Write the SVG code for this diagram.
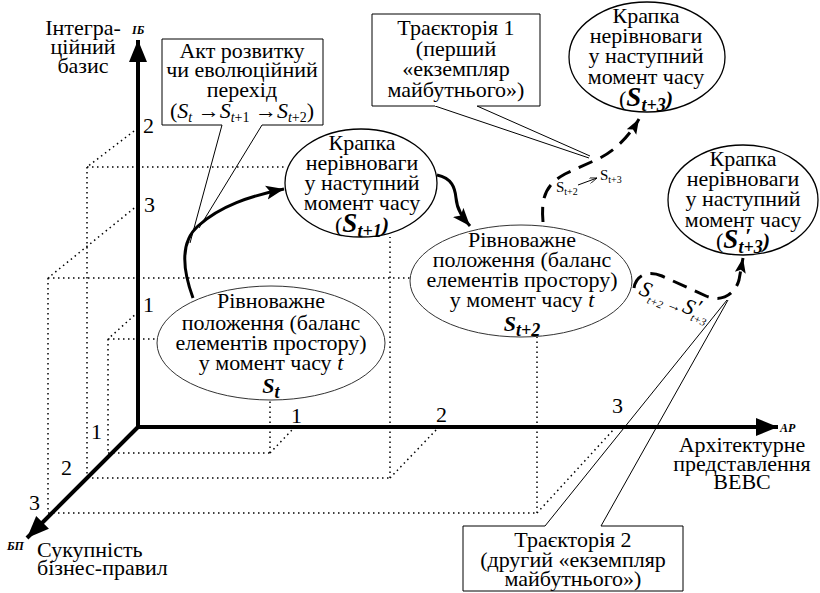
<svg xmlns="http://www.w3.org/2000/svg" width="820" height="593" viewBox="0 0 820 593">
<style>
 text { font-family: "Liberation Serif", "Times New Roman", serif; font-size: 22px; fill: #000; }
 .c { text-anchor: middle; }
 .dot { fill: none; stroke: #000; stroke-width: 1.5; stroke-dasharray: 1.5 3.5; }
 .axis { fill: none; stroke: #000; stroke-width: 4; }
 .arr { fill: none; stroke: #000; stroke-width: 3; }
 .dash { fill: none; stroke: #000; stroke-width: 3; stroke-dasharray: 15 9; }
 .thin { fill: none; stroke: #000; stroke-width: 1; }
 .box { fill: #fff; stroke: none; }
 .el1 { fill: #fff; stroke: #333; stroke-width: 1; }
 .el2 { fill: #fff; stroke: #000; stroke-width: 1.3; }
 .bi { font-weight: bold; font-style: italic; }
 .it { font-style: italic; }
 .ax { font-size: 12px; font-weight: bold; font-style: italic; }
 .sm { font-size: 15px; }
 .sub { font-size: 10px; }
</style>
<defs>
 <marker id="axHead" markerUnits="userSpaceOnUse" markerWidth="24" markerHeight="20" viewBox="0 0 24 20" refX="22" refY="10" orient="auto-start-reverse"><path d="M0,1 L22,10 L0,19 Z" fill="#000"/></marker>
 <marker id="head" markerUnits="userSpaceOnUse" markerWidth="20" markerHeight="16" viewBox="0 0 20 16" refX="18" refY="8" orient="auto"><path d="M0,1 L18,8 L0,15 L4,8 Z" fill="#000"/></marker>
 <marker id="headS" markerUnits="userSpaceOnUse" markerWidth="16" markerHeight="12" viewBox="0 0 16 12" refX="15" refY="6" orient="auto"><path d="M0,0.5 L15,6 L0,11.5 L3,6 Z" fill="#000"/></marker>
 <marker id="tiny" markerUnits="userSpaceOnUse" markerWidth="8" markerHeight="6" viewBox="0 0 8 6" refX="8" refY="3" orient="auto"><path d="M0,0 L8,3 L0,6" fill="none" stroke="#000" stroke-width="0.8"/></marker>
</defs>

<g id="grid">
 <path class="dot" d="M138,312 L108,339 M108,339 H157 M108,339 V453 M108,453 H270 M270,453 V400 M270,453 L292,430"/>
 <path class="dot" d="M138,128 L87,167 M87,167 H286 M87,167 V478 M87,478 H390 M390,478 V237 M390,478 L438,428"/>
 <path class="dot" d="M138,205 L48,278 M48,278 H410 M48,278 V513 M48,513 H537 M537,513 V337 M537,513 L615,428"/>
</g>

<g id="axes">
 <path class="axis" d="M138,40 V427 H778" marker-start="url(#axHead)" marker-end="url(#axHead)"/>
 <path class="axis" d="M138,427 L27,538" marker-end="url(#axHead)"/>
 <text class="ax" x="132" y="34">ІБ</text>
 <text class="c" x="83" y="35">Інтегра-</text>
 <text class="c" x="83" y="54">ційний</text>
 <text class="c" x="83" y="73">базис</text>
 <text class="ax" x="780" y="432">АР</text>
 <text class="c" x="742" y="452">Архітектурне</text>
 <text class="c" x="742" y="471">представлення</text>
 <text class="c" x="742" y="489">ВЕВС</text>
 <text class="ax" x="7" y="550">БП</text>
 <text x="37" y="557">Сукупність</text>
 <text x="37" y="575">бізнес-правил</text>
 <text x="143" y="133">2</text>
 <text x="144" y="212">3</text>
 <text x="143" y="312">1</text>
 <text x="291" y="423">1</text>
 <text x="436" y="422">2</text>
 <text x="612" y="413">3</text>
 <text x="91" y="439">1</text>
 <text x="61" y="475">2</text>
 <text x="29" y="510">3</text>
</g>

<g id="node-st">
 <ellipse class="el1" cx="271" cy="343" rx="114" ry="57"/>
 <text class="c" x="271" y="308">Рівноважне</text>
 <text class="c" x="271" y="330">положення (баланс</text>
 <text class="c" x="271" y="350">елементів простору)</text>
 <text class="c" x="271" y="370">у момент часу <tspan class="it">t</tspan></text>
 <text class="c bi" x="271" y="393" font-size="27">S<tspan font-size="18" dy="5">t</tspan></text>
</g>

<g id="node-st1">
 <ellipse class="el2" cx="361" cy="183" rx="76" ry="54"/>
 <text class="c" x="362" y="150">Крапка</text>
 <text class="c" x="362" y="170">нерівноваги</text>
 <text class="c" x="362" y="190">у наступний</text>
 <text class="c" x="362" y="210">момент часу</text>
 <text class="c" x="362" y="232">(<tspan class="bi" font-size="27">S</tspan><tspan class="bi" font-size="18" dy="5">t+1</tspan><tspan class="bi" dy="-5">)</tspan></text>
</g>

<g id="node-st2">
 <ellipse class="el1" cx="521" cy="281" rx="111" ry="56"/>
 <text class="c" x="522" y="247">Рівноважне</text>
 <text class="c" x="522" y="267">положення (баланс</text>
 <text class="c" x="522" y="287">елементів простору)</text>
 <text class="c" x="522" y="307">у момент часу <tspan class="it">t</tspan></text>
 <text class="c bi" x="522" y="331" font-size="27">S<tspan font-size="18" dy="5">t+2</tspan></text>
</g>

<g id="node-st3">
 <ellipse class="el2" cx="647" cy="57" rx="78" ry="55"/>
 <text class="c" x="646" y="23">Крапка</text>
 <text class="c" x="646" y="43">нерівноваги</text>
 <text class="c" x="646" y="63">у наступний</text>
 <text class="c" x="646" y="84">момент часу</text>
 <text class="c" x="646" y="106">(<tspan class="bi" font-size="27">S</tspan><tspan class="bi" font-size="18" dy="5">t+3</tspan><tspan class="bi" dy="-5">)</tspan></text>
</g>

<g id="node-st3p">
 <ellipse class="el2" cx="743" cy="200" rx="75" ry="55"/>
 <text class="c" x="743" y="166">Крапка</text>
 <text class="c" x="743" y="186">нерівноваги</text>
 <text class="c" x="743" y="206">у наступний</text>
 <text class="c" x="743" y="227">момент часу</text>
 <text class="c" x="743" y="248">(<tspan class="bi" font-size="27">S</tspan><tspan class="bi" font-size="18" dy="5">t+3</tspan><tspan class="bi" dy="-5">)</tspan></text>
 <text class="bi" x="745" y="243" font-size="20">′</text>
</g>

<g id="connectors">
 <path class="arr" d="M193,298 C182,268 180,242 198,226 C220,206 250,196 284,189" marker-end="url(#head)"/>
 <path class="arr" d="M437,175 C452,178 455,188 456,198 C457,210 463,218 470,226" marker-end="url(#head)"/>
 <path class="dash" d="M543,222 C541,198 545,185 565,174 L600,158 C615,150 628,138 639,119" marker-end="url(#headS)"/>
 <path class="dash" d="M634,288 C636,275 648,270 662,276 L706,296 C722,303 735,294 739,280 L743,258" marker-end="url(#headS)"/>
 <path class="thin" d="M222,125 L190,243 M262,125 L199,228"/>
 <path class="thin" d="M435,106 L589,158 M477,106 L590,156"/>
 <path class="thin" d="M545,526 L727,300 M601,526 L728,300"/>
 <text class="sm" x="556" y="192">S<tspan class="sub" dy="3">t+2</tspan></text>
 <path class="thin" d="M578,185 L597,178" stroke-width="0.8" marker-end="url(#tiny)"/>
 <text class="sm" x="600" y="180">S<tspan class="sub" dy="3">t+3</tspan></text>
 <g transform="translate(638,294) rotate(22)">
  <text class="it" font-size="18" x="0" y="0">S<tspan font-size="11" dy="5">t+2</tspan><tspan font-size="15" dy="-3"> →</tspan><tspan dx="1" dy="-2">S</tspan><tspan font-size="11" dy="5">t+3</tspan></text>
  <text class="it" font-size="13" x="58" y="-3">′</text>
 </g>
</g>

<g id="callout-act">
 <rect class="box" x="162" y="39" width="161" height="86"/>
 <path class="thin" d="M222,125 H162 V39 H323 V125 H262"/>
 <text class="c" x="242" y="58">Акт розвитку</text>
 <text class="c" x="242" y="77">чи еволюційний</text>
 <text class="c" x="242" y="97">перехід</text>
 <text class="c" x="242" y="118">(<tspan class="it">S</tspan><tspan class="it" font-size="14" dy="4">t</tspan><tspan dy="-4"> →</tspan><tspan class="it">S</tspan><tspan font-size="14" dy="4"><tspan class="it">t</tspan>+1</tspan><tspan dy="-4"> →</tspan><tspan class="it">S</tspan><tspan font-size="14" dy="4"><tspan class="it">t</tspan>+2</tspan><tspan dy="-4">)</tspan></text>
</g>

<g id="callout-t1">
 <rect class="box" x="372" y="14" width="168" height="92"/>
 <path class="thin" d="M435,106 H372 V14 H540 V106 H477"/>
 <text class="c" x="456" y="35">Траєкторія 1</text>
 <text class="c" x="456" y="56">(перший</text>
 <text class="c" x="456" y="76">«екземпляр</text>
 <text class="c" x="456" y="97">майбутнього»)</text>
</g>

<g id="callout-t2">
 <rect class="box" x="463" y="526" width="220" height="65"/>
 <path class="thin" d="M545,526 H463 V591 H683 V526 H601"/>
 <text class="c" x="573" y="547">Траєкторія 2</text>
 <text class="c" x="573" y="567">(другий «екземпляр</text>
 <text class="c" x="573" y="586">майбутнього»)</text>
</g>
</svg>
